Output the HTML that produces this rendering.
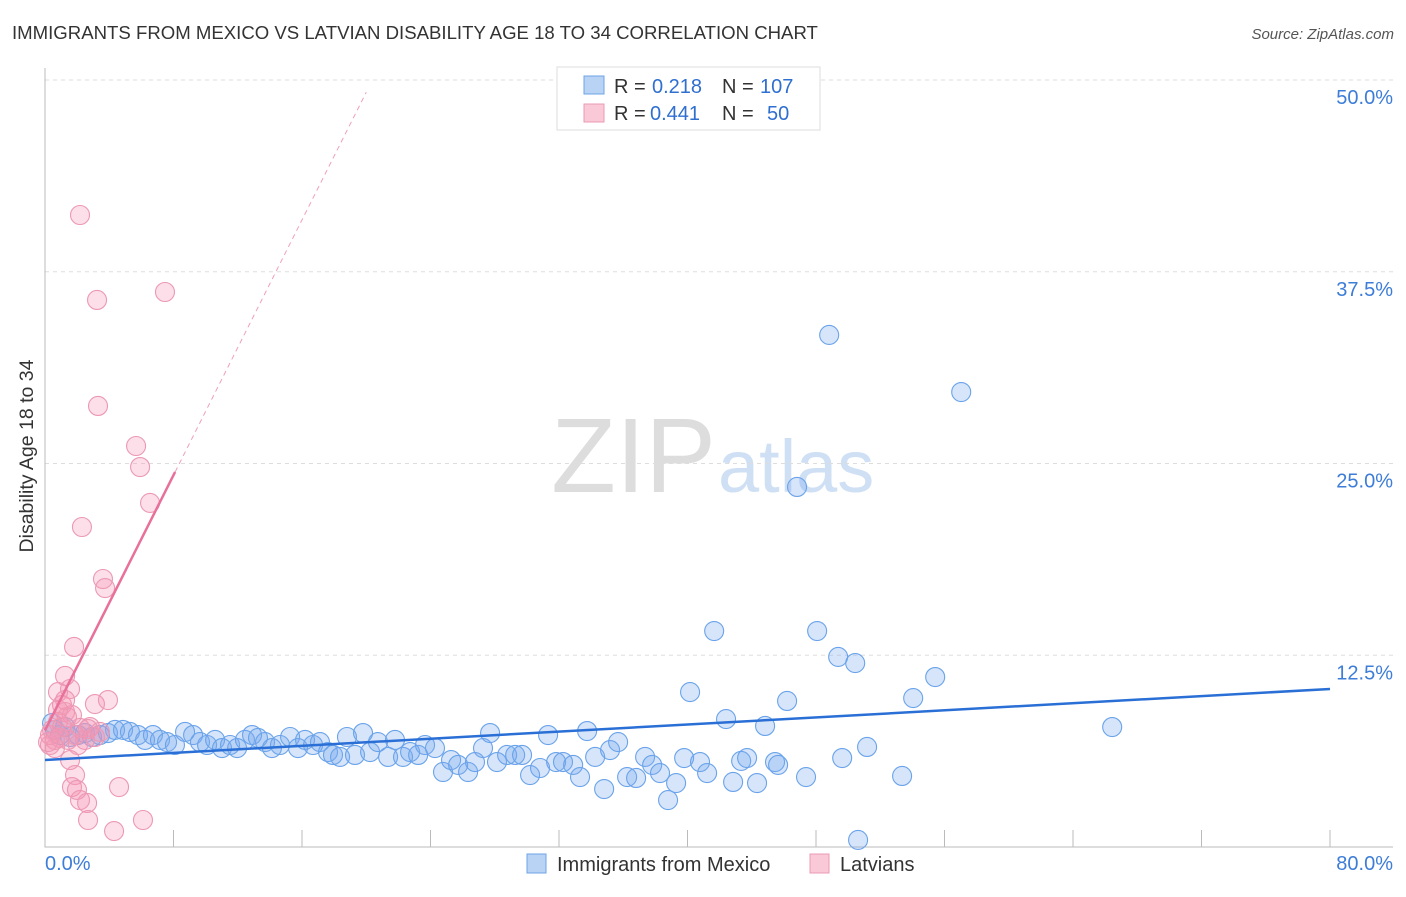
<!DOCTYPE html>
<html><head><meta charset="utf-8"><style>
body{margin:0;background:#fff;font-family:"Liberation Sans",sans-serif}
svg text{font-family:"Liberation Sans",sans-serif}
</style></head><body>
<svg id="chart" width="1406" height="892">
<text x="12" y="39" font-size="18.6" fill="#333">IMMIGRANTS FROM MEXICO VS LATVIAN DISABILITY AGE 18 TO 34 CORRELATION CHART</text>
<text x="1394" y="39" font-size="15" fill="#555" text-anchor="end" font-style="italic">Source: ZipAtlas.com</text>
<text x="716" y="492" font-size="106" fill="#ddd" text-anchor="end" font-family="Liberation Serif">ZIP</text>
<text x="718" y="492" font-size="74" fill="#cfe0f5">atlas</text>
<text transform="translate(33,456) rotate(-90)" font-size="19.5" fill="#333" text-anchor="middle">Disability Age 18 to 34</text>
<g id="grid"></g><g id="axes"></g><g id="marks"></g>
<g>
<rect x="557" y="67" width="263" height="63" fill="#fff" stroke="#ddd"/>
<rect x="584" y="76" width="20" height="18" fill="#b9d3f5" stroke="#6fa3e6"/>
<rect x="584" y="104" width="20" height="18" fill="#f9c9d8" stroke="#ec9ab4"/>
<text x="614" y="93" font-size="20" fill="#333">R =</text>
<text x="652" y="93" font-size="20" fill="#2f6fd0">0.218</text>
<text x="722" y="93" font-size="20" fill="#333">N =</text>
<text x="760" y="93" font-size="20" fill="#2f6fd0">107</text>
<text x="614" y="120" font-size="20" fill="#333">R =</text>
<text x="650" y="120" font-size="20" fill="#2f6fd0">0.441</text>
<text x="722" y="120" font-size="20" fill="#333">N =</text>
<text x="767" y="120" font-size="20" fill="#2f6fd0">50</text>
</g>
<g>
<rect x="527" y="854" width="19" height="19" fill="#b9d3f5" stroke="#6fa3e6"/>
<text x="557" y="871" font-size="20" fill="#333">Immigrants from Mexico</text>
<rect x="810" y="854" width="19" height="19" fill="#f9c9d8" stroke="#ec9ab4"/>
<text x="840" y="871" font-size="20" fill="#333">Latvians</text>
</g>
</svg>
<script>
const yTicks=[12.5,25,37.5,50];
const yTickLabels=["12.5%","25.0%","37.5%","50.0%"];
const xTickCount=10;
const blueX=[0.44,0.62,0.93,1.25,1.56,2.05,2.49,2.93,3.42,3.92,4.36,4.86,5.29,5.79,6.23,6.72,7.16,7.6,8.09,8.72,9.22,9.65,10.09,10.59,11.02,11.52,11.96,12.45,12.89,13.26,13.7,14.13,14.63,15.26,15.75,16.19,16.69,17.12,17.62,17.93,18.37,18.8,19.3,19.8,20.24,20.73,21.36,21.79,22.29,22.73,23.23,23.66,24.28,24.78,25.28,25.72,26.34,26.77,27.27,27.71,28.14,28.77,29.27,29.7,30.2,30.82,31.32,31.82,32.25,32.88,33.31,33.75,34.25,34.81,35.18,35.68,36.24,36.8,37.36,37.8,38.29,38.79,39.29,39.79,40.16,40.78,41.22,41.66,42.4,42.84,43.34,43.71,44.33,44.83,45.45,45.64,46.2,46.82,47.38,48.07,48.82,49.38,49.63,50.44,50.62,51.18,53.36,54.05,55.42,57.04,66.44];
const blueY=[8.08,7.63,7.3,7.82,7.17,7.3,7.43,7.17,7.3,7.43,7.63,7.63,7.5,7.3,6.98,7.3,6.98,6.84,6.65,7.5,7.3,6.84,6.65,6.98,6.45,6.65,6.45,6.98,7.3,7.11,6.84,6.45,6.65,7.17,6.45,6.98,6.65,6.84,6.19,6,5.87,7.17,6,7.43,6.19,6.84,5.87,6.98,5.87,6.19,6,6.65,6.45,4.89,5.67,5.35,4.89,5.54,6.45,7.43,5.54,6,6,6,4.69,5.15,7.3,5.54,5.54,5.35,4.56,7.56,5.87,3.78,6.32,6.84,4.56,4.5,5.87,5.35,4.82,3.06,4.17,5.8,10.1,5.54,4.82,14.08,8.34,4.24,5.61,5.8,4.17,7.89,5.54,5.35,9.52,23.47,4.56,14.08,33.38,12.39,5.8,11.99,0.46,6.52,4.63,9.71,11.08,29.66,7.82];
const pinkX=[2.18,3.24,7.47,3.3,5.67,5.92,6.54,2.3,3.61,3.74,1.81,1.25,0.81,1.56,1.06,1.25,1.37,1.68,3.11,3.92,2.8,0.81,0.44,0.62,0.31,0.93,1.43,1.06,1.87,2.18,3.11,2.68,1.56,1.87,1.68,2.18,1.99,2.62,2.68,4.61,4.3,6.1,0.31,0.62,0.19,3.42,1.25,2.05,2.49,0.81];
const pinkY=[41.2,35.66,36.18,28.75,26.14,24.77,22.43,20.86,17.47,16.88,13.04,11.15,10.1,10.3,9.26,8.8,8.47,8.6,9.32,9.58,7.82,8.15,7.63,6.98,6.65,7.11,6.98,7.82,7.3,7.76,7.17,7.69,5.67,4.69,3.91,3.06,3.72,2.87,1.76,3.91,1.04,1.76,7.3,6.45,6.84,7.5,9.58,6.65,6.98,8.93];
const blueTrend=[5.67,10.3];
const pinkTrend=[7.6,2.08];
const pinkSolidEnd=8.1, pinkDashEnd=20;

const NS="http://www.w3.org/2000/svg";
const X0=45,X1=1330,Y0=847,Y50=80;
const sx=v=>X0+(X1-X0)*v/80;
const sy=v=>Y0-(Y0-Y50)*v/50;
function mk(tag,attrs,parent){const e=document.createElementNS(NS,tag);for(const k in attrs)e.setAttribute(k,attrs[k]);document.getElementById(parent).appendChild(e);return e;}
yTicks.forEach((t,i)=>{
 const g=mk('line',{x1:X0,x2:1393,y1:sy(t),y2:sy(t),stroke:'#ddd','stroke-dasharray':'4,4'},'grid');
 
 
 const l=mk('text',{x:1393,y:sy(t)+24,'font-size':20,fill:'#3d7dd8','text-anchor':'end'},'grid');
 l.textContent=yTickLabels[i];
 
 
});
const ax=mk('path',{d:`M${X0},68V${Y0}H1393`,stroke:'#bbb',fill:'none'},'axes');


for(let i=1;i<=xTickCount;i++){const t=mk('line',{x1:sx(i*8),x2:sx(i*8),y1:830,y2:Y0,stroke:'#bbb'},'axes');
 
 }
const xl0=mk('text',{x:45,y:870,'font-size':20,fill:'#3d7dd8'},'axes');xl0.textContent='0.0%';


const xl1=mk('text',{x:1393,y:870,'font-size':20,fill:'#3d7dd8','text-anchor':'end'},'axes');xl1.textContent='80.0%';


blueX.forEach((v,i)=>{const c=mk('circle',{cx:sx(v),cy:sy(blueY[i]),r:9.5,fill:'rgba(120,170,240,0.3)',stroke:'#6aa3ea','stroke-width':1.1},'marks');
 
 });
pinkX.forEach((v,i)=>{const c=mk('circle',{cx:sx(v),cy:sy(pinkY[i]),r:9.5,fill:'rgba(245,150,180,0.3)',stroke:'#ec98b4','stroke-width':1.1},'marks');
 
 });
const bt=mk('line',{x1:sx(0),y1:sy(blueTrend[0]),x2:sx(80),y2:sy(blueTrend[1]),stroke:'#2a6fd6','stroke-width':2.5},'marks');


const pt=mk('line',{x1:sx(0),y1:sy(pinkTrend[0]),x2:sx(pinkSolidEnd),y2:sy(pinkTrend[0]+pinkTrend[1]*pinkSolidEnd),stroke:'#e8709a','stroke-width':2.5},'marks');


const pd=mk('line',{x1:sx(pinkSolidEnd),y1:sy(pinkTrend[0]+pinkTrend[1]*pinkSolidEnd),x2:sx(pinkDashEnd),y2:sy(pinkTrend[0]+pinkTrend[1]*pinkDashEnd),stroke:'#eea0b8','stroke-width':1,'stroke-dasharray':'5,4'},'marks');


</script>
</body></html>
